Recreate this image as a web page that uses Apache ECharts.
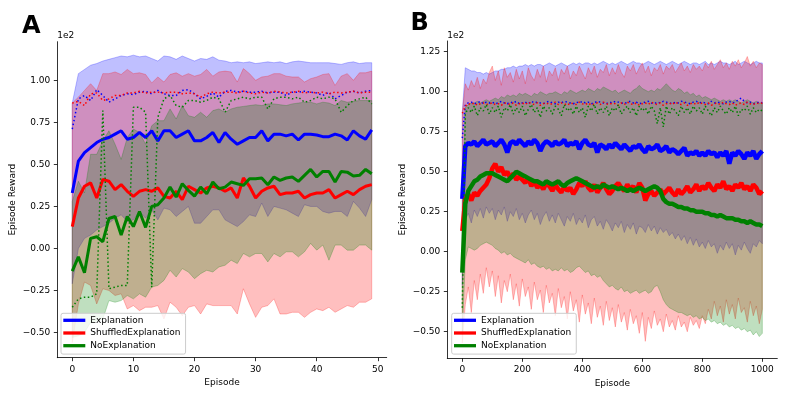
<!DOCTYPE html>
<html><head><meta charset="utf-8">
<script src="https://cdn.jsdelivr.net/npm/echarts@6/dist/echarts.min.js"></script>
<style>html,body{margin:0;padding:0;background:#fff}#c{width:790px;height:395px}</style>
</head><body><div id="c"></div>
<script>
// ---------------- Panel A (episodes 0..49) ----------------
const episodesA = [0,1,2,3,4,5,6,7,8,9,10,11,12,13,14,15,16,17,18,19,20,21,22,23,24,25,26,27,28,29,30,31,32,33,34,35,36,37,38,39,40,41,42,43,44,45,46,47,48,49];

const explMeanA = [0.33,0.52,0.57,0.60,0.63,0.65,0.66,0.68,0.70,0.65,0.66,0.69,0.66,0.70,0.64,0.70,0.70,0.66,0.68,0.70,0.64,0.64,0.66,0.69,0.63,0.69,0.65,0.62,0.64,0.66,0.66,0.70,0.64,0.68,0.68,0.67,0.68,0.645,0.68,0.68,0.675,0.665,0.665,0.68,0.67,0.645,0.70,0.67,0.65,0.705];
const explMaxA = [0.71,0.89,0.91,0.88,0.945,0.91,0.87,0.89,0.91,0.92,0.915,0.93,0.935,0.92,0.94,0.92,0.91,0.91,0.94,0.945,0.92,0.89,0.905,0.925,0.90,0.935,0.94,0.93,0.935,0.93,0.93,0.935,0.925,0.93,0.93,0.91,0.93,0.93,0.935,0.93,0.925,0.91,0.93,0.89,0.91,0.93,0.935,0.925,0.935,0.94];
const explUpperA = [0.865,1.04,1.065,1.09,1.10,1.115,1.125,1.135,1.145,1.14,1.15,1.14,1.145,1.13,1.115,1.145,1.14,1.125,1.145,1.13,1.115,1.13,1.125,1.14,1.12,1.115,1.105,1.11,1.105,1.11,1.10,1.105,1.11,1.105,1.11,1.10,1.11,1.115,1.11,1.105,1.105,1.105,1.105,1.10,1.095,1.105,1.11,1.10,1.105,1.105];
const explLowerA = [-0.21,0.00,0.06,0.08,0.11,0.13,0.15,0.18,0.20,0.16,0.17,0.22,0.18,0.23,0.17,0.24,0.23,0.19,0.22,0.25,0.15,0.15,0.19,0.23,0.23,0.17,0.15,0.13,0.16,0.20,0.19,0.27,0.19,0.25,0.24,0.23,0.21,0.19,0.26,0.25,0.25,0.22,0.21,0.22,0.22,0.19,0.28,0.24,0.19,0.29];

const shufMeanA = [0.13,0.30,0.37,0.39,0.30,0.41,0.40,0.35,0.38,0.34,0.31,0.34,0.35,0.34,0.36,0.31,0.30,0.34,0.29,0.37,0.35,0.33,0.36,0.37,0.36,0.34,0.36,0.30,0.42,0.37,0.30,0.34,0.36,0.37,0.32,0.33,0.33,0.34,0.30,0.32,0.33,0.33,0.35,0.30,0.32,0.34,0.32,0.35,0.37,0.38];
const shufMaxA = [0.865,0.875,0.85,0.92,0.925,0.88,0.89,0.91,0.91,0.925,0.925,0.935,0.925,0.93,0.93,0.925,0.93,0.93,0.92,0.925,0.92,0.90,0.92,0.93,0.925,0.93,0.93,0.925,0.935,0.925,0.92,0.93,0.925,0.935,0.93,0.925,0.93,0.935,0.925,0.93,0.925,0.93,0.92,0.93,0.925,0.93,0.935,0.925,0.93,0.93];
const shufUpperA = [0.865,0.90,0.94,0.98,0.94,1.04,1.04,1.05,1.035,1.065,1.04,1.045,1.035,0.985,1.02,0.99,1.035,1.045,1.025,1.04,1.025,1.035,1.065,1.025,1.05,1.055,1.05,0.99,1.07,1.04,1.00,1.02,1.025,1.04,1.04,1.025,1.02,1.02,0.99,1.01,1.02,1.035,1.04,0.97,1.025,1.04,1.0,1.045,1.045,1.055];
const shufLowerA = [-0.56,-0.33,-0.20,-0.22,-0.33,-0.24,-0.25,-0.28,-0.27,-0.36,-0.34,-0.37,-0.35,-0.35,-0.34,-0.42,-0.32,-0.35,-0.40,-0.35,-0.34,-0.39,-0.33,-0.34,-0.34,-0.34,-0.34,-0.39,-0.24,-0.33,-0.41,-0.35,-0.34,-0.30,-0.39,-0.39,-0.38,-0.38,-0.41,-0.38,-0.36,-0.37,-0.35,-0.38,-0.36,-0.34,-0.35,-0.32,-0.32,-0.30];

const noMeanA = [-0.135,-0.05,-0.145,0.06,0.07,0.04,0.178,0.19,0.08,0.19,0.13,0.22,0.125,0.25,0.26,0.30,0.365,0.306,0.385,0.345,0.311,0.365,0.325,0.395,0.355,0.365,0.395,0.385,0.375,0.415,0.415,0.419,0.379,0.425,0.405,0.419,0.425,0.399,0.435,0.47,0.425,0.458,0.458,0.395,0.458,0.454,0.431,0.435,0.47,0.444];
const noMaxA = [-0.35,-0.30,-0.29,-0.29,-0.27,0.82,-0.24,-0.23,-0.22,-0.22,0.84,0.84,0.81,-0.23,0.78,0.89,0.91,0.85,0.84,0.88,0.88,0.87,0.88,0.90,0.89,0.81,0.88,0.89,0.90,0.89,0.90,0.90,0.83,0.89,0.90,0.90,0.89,0.90,0.87,0.88,0.90,0.89,0.90,0.89,0.81,0.85,0.88,0.89,0.90,0.86];
const noUpperA = [0.28,0.40,0.33,0.56,0.56,0.64,0.70,0.62,0.53,0.66,0.71,0.69,0.62,0.73,0.76,0.76,0.83,0.77,0.85,0.79,0.78,0.81,0.78,0.82,0.83,0.81,0.83,0.84,0.845,0.85,0.855,0.85,0.86,0.86,0.855,0.85,0.86,0.865,0.87,0.87,0.86,0.87,0.865,0.85,0.88,0.87,0.875,0.88,0.88,0.88];
const noLowerA = [-0.53,-0.52,-0.50,-0.44,-0.43,-0.42,-0.31,-0.32,-0.31,-0.28,-0.30,-0.27,-0.29,-0.23,-0.22,-0.19,-0.13,-0.17,-0.12,-0.14,-0.18,-0.15,-0.13,-0.14,-0.11,-0.10,-0.07,-0.09,-0.03,-0.05,-0.03,-0.03,-0.08,-0.03,-0.05,-0.02,-0.02,-0.05,-0.02,0.03,-0.01,0.02,-0.07,0.02,0.02,-0.01,-0.01,0.02,0.02,-0.01];

// ---------------- Panel B (episodes 0..1000, read every 10) ----------------
const episodesB = [0,10,20,30,40,50,60,70,80,90,100,110,120,130,140,150,160,170,180,190,200,210,220,230,240,250,260,270,280,290,300,310,320,330,340,350,360,370,380,390,400,410,420,430,440,450,460,470,480,490,500,510,520,530,540,550,560,570,580,590,600,610,620,630,640,650,660,670,680,690,700,710,720,730,740,750,760,770,780,790,800,810,820,830,840,850,860,870,880,890,900,910,920,930,940,950,960,970,980,990,1000];

const explMeanB = [0.33,0.66,0.68,0.67,0.69,0.66,0.68,0.70,0.67,0.68,
0.69,0.66,0.68,0.70,0.67,0.62,0.68,0.69,0.67,0.70,
0.68,0.66,0.69,0.67,0.70,0.68,0.63,0.67,0.69,0.68,
0.66,0.69,0.67,0.68,0.70,0.66,0.68,0.67,0.69,0.64,
0.68,0.70,0.67,0.66,0.68,0.62,0.67,0.66,0.64,0.67,
0.65,0.68,0.66,0.64,0.67,0.65,0.63,0.66,0.65,0.67,
0.64,0.62,0.66,0.64,0.65,0.67,0.63,0.64,0.66,0.62,
0.64,0.63,0.61,0.63,0.65,0.60,0.62,0.61,0.63,0.60,
0.62,0.60,0.63,0.61,0.62,0.59,0.62,0.60,0.63,0.55,
0.62,0.60,0.63,0.61,0.58,0.62,0.60,0.63,0.58,0.61,
0.63];
const explMaxB = [0.71,0.92,0.93,0.935,0.925,0.93,0.94,0.925,0.935,0.93,
0.935,0.925,0.93,0.94,0.93,0.925,0.935,0.93,0.94,0.925,
0.93,0.935,0.925,0.94,0.93,0.935,0.93,0.925,0.935,0.94,
0.93,0.925,0.935,0.93,0.94,0.935,0.93,0.925,0.935,0.93,
0.94,0.93,0.935,0.925,0.93,0.94,0.935,0.93,0.925,0.935,
0.93,0.94,0.935,0.93,0.925,0.935,0.94,0.93,0.935,0.925,
0.93,0.935,0.94,0.93,0.925,0.935,0.93,0.94,0.935,0.93,
0.925,0.935,0.93,0.94,0.935,0.93,0.925,0.935,0.94,0.93,
0.935,0.93,0.925,0.94,0.93,0.935,0.93,0.925,0.935,0.94,
0.93,0.935,0.95,0.96,0.94,0.93,0.935,0.925,0.93,0.935,
0.93];
const explUpperB = [0.87,1.15,1.14,1.13,1.13,1.12,1.12,1.11,1.12,1.11,
1.12,1.13,1.13,1.14,1.14,1.15,1.15,1.16,1.15,1.16,
1.16,1.17,1.16,1.17,1.16,1.17,1.17,1.16,1.17,1.18,
1.17,1.16,1.17,1.18,1.17,1.16,1.17,1.18,1.17,1.18,
1.17,1.18,1.18,1.17,1.18,1.17,1.18,1.19,1.18,1.17,
1.18,1.17,1.18,1.19,1.18,1.17,1.18,1.19,1.18,1.18,
1.17,1.18,1.19,1.18,1.17,1.18,1.19,1.18,1.17,1.18,
1.19,1.18,1.17,1.18,1.19,1.18,1.17,1.18,1.18,1.17,
1.18,1.19,1.17,1.18,1.17,1.18,1.19,1.18,1.18,1.17,
1.18,1.19,1.17,1.18,1.19,1.18,1.17,1.18,1.19,1.18,
1.18];
const explLowerB = [-0.21,0.20,0.24,0.18,0.26,0.22,0.27,0.21,0.28,0.24,
0.27,0.20,0.26,0.23,0.28,0.19,0.25,0.22,0.27,0.20,
0.24,0.18,0.23,0.26,0.20,0.24,0.17,0.22,0.25,0.19,
0.23,0.18,0.24,0.20,0.16,0.22,0.19,0.24,0.17,0.21,
0.18,0.23,0.15,0.20,0.22,0.16,0.19,0.14,0.20,0.17,
0.13,0.18,0.15,0.19,0.12,0.17,0.14,0.18,0.11,0.16,
0.15,0.12,0.17,0.13,0.16,0.11,0.15,0.12,0.14,0.10,
0.12,0.08,0.11,0.07,0.10,0.05,0.09,0.04,0.08,0.03,
0.06,0.02,0.07,0.03,0.05,-0.01,0.04,0.01,0.06,0.02,
0.05,-0.02,0.04,0.01,0.06,0.02,-0.01,0.05,0.03,0.07,
0.05];

const shufMeanB = [0.13,0.33,0.36,0.32,0.37,0.35,0.38,0.40,0.42,0.46,
0.52,0.55,0.50,0.53,0.48,0.50,0.46,0.49,0.45,0.47,
0.45,0.43,0.46,0.41,0.44,0.40,0.42,0.39,0.43,0.41,
0.38,0.42,0.39,0.37,0.41,0.38,0.40,0.36,0.39,0.43,
0.41,0.44,0.40,0.38,0.42,0.37,0.40,0.43,0.39,0.36,
0.38,0.41,0.43,0.40,0.38,0.42,0.39,0.41,0.37,0.43,
0.40,0.32,0.36,0.38,0.35,0.37,0.39,0.36,0.38,0.40,
0.37,0.35,0.39,0.36,0.38,0.41,0.37,0.39,0.42,0.38,
0.41,0.39,0.43,0.40,0.38,0.42,0.40,0.44,0.39,0.41,
0.38,0.42,0.40,0.43,0.39,0.41,0.38,0.42,0.40,0.36,
0.38];
const shufMaxB = [0.865,0.91,0.925,0.92,0.93,0.915,0.925,0.93,0.92,0.925,
0.93,0.92,0.925,0.915,0.93,0.925,0.92,0.93,0.915,0.925,
0.93,0.92,0.935,0.925,0.92,0.93,0.915,0.925,0.93,0.92,
0.925,0.935,0.92,0.93,0.925,0.915,0.93,0.925,0.92,0.935,
0.925,0.92,0.93,0.915,0.925,0.93,0.92,0.935,0.925,0.92,
0.93,0.925,0.915,0.93,0.92,0.935,0.925,0.92,0.93,0.915,
0.925,0.93,0.92,0.935,0.925,0.92,0.93,0.915,0.925,0.93,
0.92,0.935,0.925,0.92,0.93,0.915,0.925,0.93,0.92,0.935,
0.925,0.92,0.93,0.915,0.925,0.93,0.92,0.935,0.925,0.92,
0.93,0.915,0.925,0.93,0.92,0.935,0.925,0.92,0.93,0.925,
0.93];
const shufUpperB = [0.87,1.05,1.01,1.07,1.03,1.09,1.02,1.08,1.05,1.12,
1.16,1.07,1.13,1.04,1.15,1.09,1.12,1.06,1.14,1.08,
1.13,1.05,1.15,1.10,1.07,1.14,1.09,1.16,1.06,1.13,
1.10,1.15,1.07,1.14,1.11,1.16,1.08,1.13,1.10,1.16,
1.12,1.08,1.15,1.11,1.16,1.09,1.14,1.12,1.17,1.10,
1.15,1.11,1.17,1.12,1.09,1.16,1.13,1.17,1.11,1.15,
1.18,1.12,1.16,1.10,1.15,1.13,1.17,1.11,1.16,1.14,
1.17,1.12,1.15,1.18,1.13,1.16,1.12,1.17,1.14,1.16,
1.13,1.18,1.15,1.19,1.14,1.17,1.20,1.15,1.18,1.14,
1.19,1.16,1.20,1.15,1.18,1.22,1.16,1.19,1.15,1.18,
1.17];
const shufLowerB = [-0.57,-0.33,-0.22,-0.38,-0.18,-0.30,-0.14,-0.26,-0.10,-0.22,
-0.12,-0.28,-0.15,-0.32,-0.18,-0.25,-0.14,-0.30,-0.20,-0.34,
-0.17,-0.28,-0.22,-0.36,-0.19,-0.30,-0.24,-0.38,-0.21,-0.32,
-0.26,-0.40,-0.23,-0.35,-0.28,-0.42,-0.25,-0.37,-0.30,-0.44,
-0.27,-0.39,-0.32,-0.45,-0.29,-0.41,-0.34,-0.46,-0.31,-0.43,
-0.35,-0.47,-0.33,-0.44,-0.38,-0.49,-0.36,-0.45,-0.40,-0.51,
-0.38,-0.56,-0.41,-0.48,-0.37,-0.46,-0.42,-0.50,-0.39,-0.47,
-0.43,-0.49,-0.40,-0.47,-0.44,-0.50,-0.41,-0.46,-0.43,-0.48,
-0.40,-0.45,-0.36,-0.42,-0.31,-0.40,-0.34,-0.44,-0.30,-0.39,
-0.33,-0.42,-0.29,-0.38,-0.35,-0.44,-0.31,-0.40,-0.34,-0.45,
-0.36];

const noMeanB = [-0.13,0.30,0.38,0.41,0.44,0.45,0.47,0.48,0.49,0.49,
0.49,0.48,0.47,0.46,0.45,0.44,0.46,0.48,0.50,0.49,
0.48,0.47,0.46,0.45,0.44,0.44,0.43,0.42,0.44,0.43,
0.42,0.43,0.44,0.42,0.41,0.43,0.44,0.45,0.46,0.45,
0.44,0.43,0.42,0.41,0.40,0.41,0.40,0.42,0.41,0.40,
0.41,0.40,0.39,0.40,0.39,0.38,0.39,0.38,0.39,0.40,
0.39,0.38,0.39,0.40,0.41,0.40,0.38,0.33,0.31,0.30,
0.30,0.29,0.28,0.28,0.27,0.27,0.26,0.26,0.25,0.25,
0.25,0.24,0.24,0.23,0.23,0.22,0.23,0.22,0.21,0.21,
0.21,0.20,0.20,0.19,0.19,0.18,0.19,0.18,0.17,0.17,
0.16];
const noMaxB = [-0.35,0.86,0.90,0.87,0.91,0.85,0.90,0.88,0.92,0.86,
0.90,0.87,0.91,0.84,0.90,0.88,0.92,0.86,0.90,0.87,
0.91,0.85,0.89,0.92,0.87,0.90,0.84,0.91,0.88,0.90,
0.86,0.91,0.89,0.85,0.92,0.88,0.90,0.86,0.91,0.87,
0.90,0.84,0.91,0.88,0.92,0.86,0.90,0.87,0.91,0.85,
0.90,0.88,0.92,0.86,0.89,0.91,0.87,0.90,0.85,0.91,
0.88,0.90,0.86,0.91,0.88,0.80,0.90,0.78,0.91,0.86,
0.90,0.88,0.85,0.91,0.87,0.90,0.86,0.91,0.88,0.90,
0.86,0.91,0.88,0.85,0.90,0.87,0.91,0.88,0.86,0.90,
0.87,0.91,0.85,0.89,0.88,0.91,0.86,0.90,0.87,0.89,
0.88];
const noUpperB = [0.26,0.90,0.92,0.93,0.93,0.94,0.93,0.94,0.95,0.94,
0.95,0.96,0.95,0.97,0.96,0.98,0.97,0.98,0.97,0.99,
0.98,0.99,0.98,0.97,0.99,0.98,1.00,0.99,0.98,0.99,
0.99,1.00,0.99,0.98,1.00,0.99,1.01,1.00,0.99,1.00,
1.01,1.00,1.02,1.01,1.00,1.02,1.01,1.03,1.02,1.01,
1.00,1.01,0.99,1.00,1.01,1.00,0.99,1.01,1.02,1.04,
1.02,1.01,1.00,1.01,1.00,1.02,1.01,1.03,1.05,1.03,
1.01,1.00,1.02,1.01,0.99,1.00,0.98,0.99,0.97,0.98,
0.96,0.97,0.96,0.95,0.96,0.95,0.94,0.95,0.94,0.95,
0.94,0.95,0.94,0.93,0.94,0.95,0.94,0.93,0.94,0.93,
0.93];
const noLowerB = [-0.52,-0.05,0.03,0.02,0.01,0.02,0.04,0.05,0.06,0.05,
0.04,0.02,0.01,-0.01,0.00,-0.02,-0.01,-0.03,-0.04,-0.05,
-0.06,-0.07,-0.05,-0.08,-0.07,-0.09,-0.10,-0.09,-0.11,-0.10,
-0.12,-0.11,-0.12,-0.10,-0.12,-0.11,-0.13,-0.12,-0.10,-0.09,
-0.11,-0.13,-0.12,-0.15,-0.14,-0.16,-0.15,-0.18,-0.20,-0.22,
-0.21,-0.23,-0.24,-0.22,-0.25,-0.24,-0.26,-0.25,-0.24,-0.26,
-0.25,-0.24,-0.26,-0.25,-0.22,-0.21,-0.25,-0.30,-0.33,-0.35,
-0.36,-0.37,-0.38,-0.38,-0.39,-0.40,-0.39,-0.41,-0.40,-0.42,
-0.41,-0.43,-0.42,-0.44,-0.43,-0.45,-0.44,-0.46,-0.45,-0.47,
-0.46,-0.48,-0.47,-0.49,-0.48,-0.50,-0.49,-0.52,-0.50,-0.53,
-0.51];

// ---------------- ticks / labels ----------------
const yTicksA = [-0.5,-0.25,0,0.25,0.5,0.75,1.0];
const yTicksB = [-0.5,-0.25,0,0.25,0.5,0.75,1.0,1.25];
const xTicksA = [0,10,20,30,40,50];
const xTicksB = [0,200,400,600,800,1000];
const groupNames = ['Explanation','ShuffledExplanation','NoExplanation'];
const groupColors = ['#0000ff','#ff0000','#008000'];
const groupFills = ['rgba(0,0,255,0.25)','rgba(255,0,0,0.25)','rgba(0,128,0,0.25)'];

const FONT = 'DejaVu Sans';
const pairs = (xs, ys) => xs.map((x, i) => [x, ys[i]]);

// shaded band: one polygon (upper edge forward, lower edge back) placed with the axis scales
function bandSeries(idx, xs, lower, upper, g) {
  return {type: 'custom', xAxisIndex: idx, yAxisIndex: idx, silent: true, z: 1, animation: false,
    data: xs.map((x, i) => [x, lower[i], upper[i]]),
    encode: {x: 0, y: [1, 2]},
    renderItem: function (params, api) {
      if (params.dataIndex !== 0) return null;
      const top = xs.map((x, i) => api.coord([x, upper[i]]));
      const bot = xs.map((x, i) => api.coord([x, lower[i]])).reverse();
      return {type: 'polygon', shape: {points: top.concat(bot)},
        style: {fill: groupFills[g], stroke: groupFills[g], lineWidth: 1}};
    }};
}
function meanSeries(idx, xs, ys, g, w) {
  return {type:'line', name: groupNames[g], xAxisIndex: idx, yAxisIndex: idx, data: pairs(xs, ys),
    symbol:'none', z: 3, animation: false, silent: true,
    itemStyle: {color: groupColors[g]}, lineStyle: {color: groupColors[g], width: w, join: 'bevel'}};
}
function maxSeries(idx, xs, ys, g) {
  return {type:'line', name: groupNames[g] + '_max', xAxisIndex: idx, yAxisIndex: idx, data: pairs(xs, ys),
    symbol:'none', z: 4, animation: false, silent: true,
    lineStyle: {color: groupColors[g], width: 1.5, type: [1.5, 2.5], cap: 'butt'}};
}

const yFmt = v => (v < 0 ? '\u2212' : '') + Math.abs(v).toFixed(2);
function xAxisCfg(idx, min, max, ticks) {
  return {type:'value', gridIndex: idx, min, max, name: 'Episode', nameLocation: 'middle', nameGap: 17,
    nameTextStyle: {fontFamily: FONT, fontSize: 9, color: '#000'},
    axisLine: {show: true, onZero: false, lineStyle: {color: '#000', width: 0.8}},
    axisTick: {show: true, length: 3.5, customValues: ticks, lineStyle: {color: '#000', width: 0.8}},
    axisLabel: {margin: 7, customValues: ticks, fontFamily: FONT, fontSize: 9, color: '#000', formatter: v => String(v)},
    splitLine: {show: false}};
}
function yAxisCfg(idx, min, max, ticks) {
  return {type:'value', gridIndex: idx, min, max, name: 'Episode Reward', nameLocation: 'middle', nameGap: 40,
    nameTextStyle: {fontFamily: FONT, fontSize: 9, color: '#000'},
    axisLine: {show: true, onZero: false, lineStyle: {color: '#000', width: 0.8}},
    axisTick: {show: true, length: 3.5, customValues: ticks, lineStyle: {color: '#000', width: 0.8}},
    axisLabel: {margin: 7, customValues: ticks, fontFamily: FONT, fontSize: 9, color: '#000', formatter: yFmt},
    splitLine: {show: false}};
}
function legendCfg(left) {
  return {left, top: 313.3, orient: 'vertical', data: groupNames.map(n => ({name: n, icon: 'rect'})),
    itemWidth: 22, itemHeight: 3.3, itemGap: 2.7, padding: [2, 5, 3.4, 2.3],
    backgroundColor: 'rgba(255,255,255,0.8)', borderColor: '#cccccc', borderWidth: 1, borderRadius: 2,
    textStyle: {fontFamily: FONT, fontSize: 9, color: '#000', lineHeight: 10}, selectedMode: false};
}

const series = [];
const A = [[explLowerA, explUpperA],[shufLowerA, shufUpperA],[noLowerA, noUpperA]];
const B = [[explLowerB, explUpperB],[shufLowerB, shufUpperB],[noLowerB, noUpperB]];
[0,1,2].forEach(g => series.push(bandSeries(0, episodesA, A[g][0], A[g][1], g)));
[0,1,2].forEach(g => series.push(bandSeries(1, episodesB, B[g][0], B[g][1], g)));
[explMeanA, shufMeanA, noMeanA].forEach((d, g) => series.push(meanSeries(0, episodesA, d, g, 3)));
[explMeanB, shufMeanB, noMeanB].forEach((d, g) => series.push(meanSeries(1, episodesB, d, g, 4.5)));
[explMaxA, shufMaxA, noMaxA].forEach((d, g) => series.push(maxSeries(0, episodesA, d, g)));
[explMaxB, shufMaxB, noMaxB].forEach((d, g) => series.push(maxSeries(1, episodesB, d, g)));

const chart = echarts.init(document.getElementById('c'), null, {renderer: 'canvas'});
chart.setOption({
  animation: false,
  backgroundColor: '#fff',
  grid: [{left: 57.3, top: 41.7, width: 329.4, height: 316}, {left: 447.3, top: 41, width: 330, height: 317.3}],
  xAxis: [xAxisCfg(0, -2.45, 51.45, xTicksA), xAxisCfg(1, -50, 1050, xTicksB)],
  yAxis: [yAxisCfg(0, -0.65, 1.23, yTicksA), yAxisCfg(1, -0.666, 1.317, yTicksB)],
  legend: [legendCfg(61), legendCfg(451.7)],
  graphic: [
    {type: 'text', x: 31.3, y: 27.2, style: {text: 'A', font: 'bold 24px "DejaVu Sans"', fill: '#000', align: 'center', verticalAlign: 'middle'}},
    {type: 'text', x: 419.7, y: 23.7, style: {text: 'B', font: 'bold 24px "DejaVu Sans"', fill: '#000', align: 'center', verticalAlign: 'middle'}},
    {type: 'text', x: 57.3, y: 36, style: {text: '1e2', font: '9px "DejaVu Sans"', fill: '#000', align: 'left', verticalAlign: 'middle'}},
    {type: 'text', x: 447.3, y: 36, style: {text: '1e2', font: '9px "DejaVu Sans"', fill: '#000', align: 'left', verticalAlign: 'middle'}}
  ],
  series
});
</script></body></html>
